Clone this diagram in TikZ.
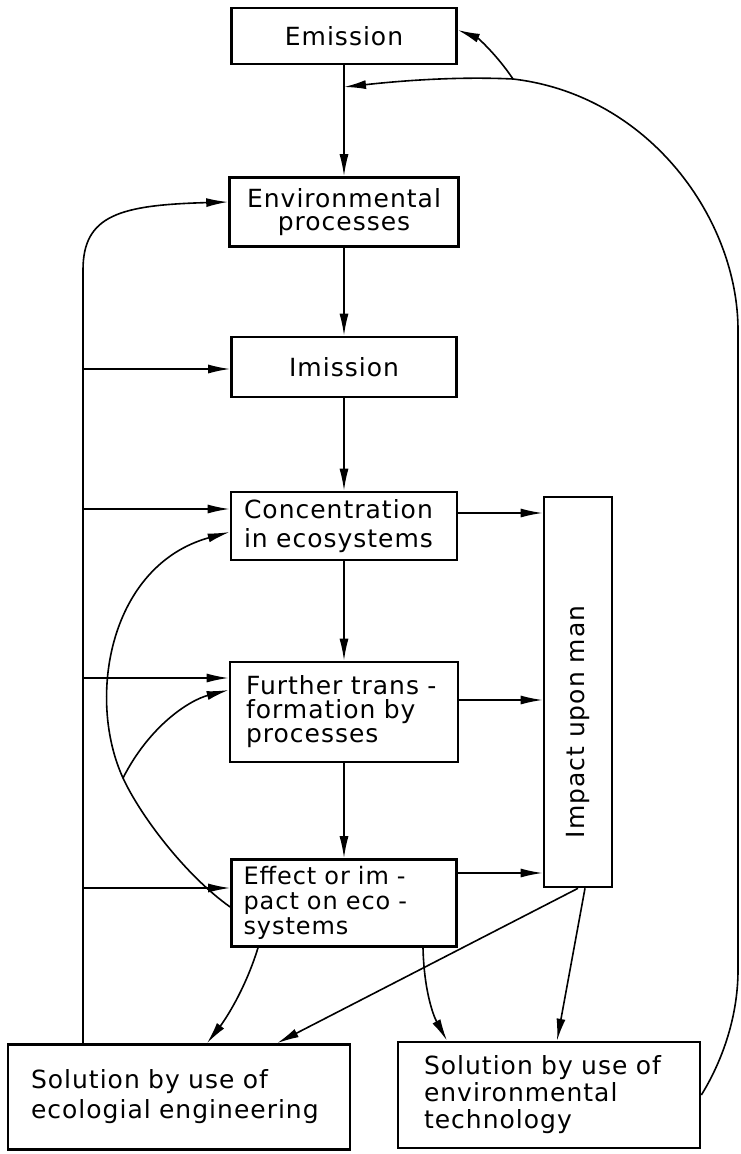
\documentclass[tikz,border=0pt]{standalone}
\usepackage{fontspec}
\usepackage{graphicx}
\usepackage{tikz}
\usetikzlibrary{arrows.meta,calc}
\newfontfamily\lbl[LetterSpace=4]{DejaVu Sans}

\begin{document}
\begin{tikzpicture}[x=1pt,y=-1pt,
  box/.style={draw,line width=2.6pt,inner sep=0pt,font=\lbl\fontsize{25}{24}\selectfont},
  fl/.style={line width=1.6pt},
  arr/.style={fl,-{Latex[length=22pt,width=9pt]}}]
\useasboundingbox (0,0) rectangle (740,1154);

  % middle column
\node[box,minimum width=225pt,minimum height=56pt] (emis) at (344,36) {Emission};
\node[box,minimum width=229pt,minimum height=69pt,align=center,
  font=\lbl\fontsize{25}{23}\selectfont] (envp) at (344,212) {Environmental\\processes};
\node[box,minimum width=225pt,minimum height=60pt] (imis) at (344,367) {Imission};
\node[box,text width=200pt,inner xsep=13pt,minimum height=68pt,align=left,
  font=\lbl\fontsize{25}{29}\selectfont] (conc) at (344,526) {Concentration\\in ecosystems};
\node[box,text width=196pt,inner xsep=16pt,minimum height=100pt,align=left] (furt)
  at (344,712) {Further trans -\\formation by\\processes};
\node[box,text width=201pt,inner xsep=12pt,minimum height=87pt,align=left,
  font=\lbl\fontsize{24}{25}\selectfont] (effe) at (344,903) {Effect or im -\\pact on eco -\\systems};

  % right column
\node[box,minimum width=68pt,minimum height=390pt] (impa) at (578,692)
  {\rotatebox{90}{Impact upon man\hspace{60pt}}};

  % solutions
\node[box,text width=296pt,inner xsep=23pt,minimum height=105pt,align=left,
  font=\lbl\fontsize{25}{30}\selectfont] (sole) at (179,1097)
  {\mbox{Solution by use of}\\\mbox{ecologial engineering}};
\node[box,text width=250pt,inner xsep=26pt,minimum height=106pt,align=left,
  font=\lbl\fontsize{25}{27}\selectfont] (solt) at (549,1095)
  {\mbox{Solution by use of}\\environmental\\technology};

  % chain
\draw[arr] (emis.south) -- (envp.north);
\draw[arr] (envp.south) -- (imis.north);
\draw[arr] (imis.south) -- (conc.north);
\draw[arr] (conc.south) -- (furt.north);
\draw[arr] (furt.south) -- (effe.north);

  % into impact upon man
\foreach \n/\y in {conc/513,furt/700,effe/873}
  \draw[arr] (\n.east |- 0,\y) -- (impa.west |- 0,\y);

  % left spine
\coordinate (s0) at (83,270);
\draw[arr] (sole.north -| s0) -- (s0) .. controls (83,215) and (120,205) .. (envp.west |- 0,202);
\foreach \n/\y in {imis/369,conc/509,furt/678,effe/888}
  \draw[arr] (83,\y) -- (\n.west |- 0,\y);

  % back loops
\coordinate (brk) at (123,778);
\draw[arr] (effe.west |- 0,907) .. controls (185,875) and (140,815) .. (brk)
  .. controls (86,697) and (110,565) .. (conc.west |- 0,532);
\draw[arr] (brk) .. controls (150,725) and (190,700) .. (furt.west |- 0,690);

  % down to solutions
\draw[arr] (effe.south -| 258,0) .. controls (245,990) and (225,1020) .. (sole.north -| 207,0);
\draw[arr] (effe.south -| 423,0) .. controls (424,990) and (433,1015) .. (solt.north -| 447,0);
\draw[arr] (impa.south -| 578,0) -- (sole.north -| 277,0);
\draw[arr] (impa.south -| 585,0) -- (solt.north -| 557,0);

  % feedback
\coordinate (fork) at (513,79);
\coordinate (join) at (emis.south |- 0,87);
\draw[arr] (solt.east) .. controls (720,1065) and (738,1020) .. (738,970) -- (738,330)
  .. controls (738,220) and (650,95) .. (fork) .. controls (450,76) and (390,82) .. (join);
\draw[arr] (fork) .. controls (497,55) and (478,38) .. (emis.east |- 0,30);
\end{tikzpicture}
\end{document}
